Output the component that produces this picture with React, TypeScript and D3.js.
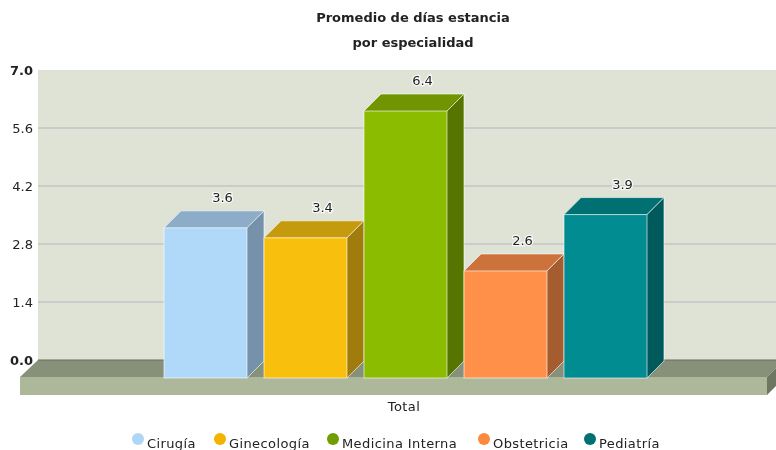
import * as d3 from 'd3';

const categories = ['Cirugía', 'Ginecología', 'Medicina Interna', 'Obstetricia', 'Pediatría'];
const values = [3.6, 3.36, 6.42, 2.56, 3.92];
const labels = ['3.6', '3.4', '6.4', '2.6', '3.9'];
const yTicks = [0, 1.4, 2.8, 4.2, 5.6, 7];
const groupLabel = 'Total';
const titleLines = ['Promedio de días estancia', 'por especialidad'];
const frontColors = ['#b0d8f8', '#f8c010', '#8cbc00', '#ff9048', '#008c90'];
const topColors = ['#8cacc8', '#c69a0c', '#6f9500', '#cc733a', '#006f72'];
const sideColors = ['#7692ab', '#a07c0a', '#577500', '#a55c2e', '#005a5c'];
const legendColors = ['#aed6f6', '#f2b400', '#6f9e00', '#fb8a40', '#006f72'];
const legendX = [138, 220, 333, 484, 590];

const width = 776, height = 450;
const depth = 17;
const y = d3.scaleLinear().domain([0, 7]).range([360, 70]);
const x = d3.scaleBand<string>().domain(categories).range([164, 647]).paddingInner(0.17);
const font = '"DejaVu Sans", sans-serif';
const line = d3.line();

export default function App() {
  const floorY = y(0);
  const bw = x.bandwidth();
  return (
    <svg width={width} height={height} style={{ position: 'absolute', left: 0, top: 0, background: '#fff' }} fontFamily={font}>
      <defs>
        <filter id="soft" x="-5%" y="-5%" width="110%" height="110%">
          <feGaussianBlur stdDeviation="0.45" />
        </filter>
      </defs>
      <g filter="url(#soft)">
        {titleLines.map((t, i) => (
          <text key={t} x={413} y={22 + i * 25} textAnchor="middle" fontSize={13} fontWeight="bold" fill="#222">{t}</text>
        ))}

        <rect x={38} y={y(7)} width={width - 38} height={y(0) - y(7)} fill="#dee3d6" />
        {yTicks.slice(1, -1).map(t => (
          <line key={t} x1={38} x2={width} y1={y(t)} y2={y(t)} stroke="#b4b5bd" strokeWidth={1} />
        ))}
        {yTicks.map(t => (
          <text key={t} x={33} y={y(t) + 5} textAnchor="end" fontSize={13}
            fontWeight={t === 0 || t === 7 ? 'bold' : 'normal'} fill="#222">{t.toFixed(1)}</text>
        ))}

        {/* floor */}
        <path d={line([[38, floorY], [width + 8, floorY], [width - 9, floorY + depth], [20, floorY + depth]])!} fill="#87917a" />
        <line x1={38} x2={width} y1={floorY} y2={floorY} stroke="#667058" strokeWidth={1} />
        <path d={line([[767, floorY + depth], [784, floorY], [784, floorY + 18], [767, floorY + depth + 18]])!} fill="#6e7762" />
        <rect x={20} y={floorY + depth} width={747} height={18} fill="#adb89b" />

        {categories.map((c, i) => {
          const x0 = x(c)!;
          const top = y(values[i]);
          const front = top + depth;
          const bottom = floorY + depth + 1;
          return (
            <g key={c}>
              <path d={line([[x0, front], [x0 + depth, top], [x0 + bw + depth, top], [x0 + bw, front]])!}
                fill={topColors[i]} stroke="#fff" strokeWidth={1} strokeOpacity={0.6} />
              <path d={line([[x0 + bw, front], [x0 + bw + depth, top], [x0 + bw + depth, bottom - depth], [x0 + bw, bottom]])!}
                fill={sideColors[i]} stroke="#fff" strokeWidth={1} strokeOpacity={0.6} />
              <rect x={x0} y={front} width={bw} height={bottom - front} fill={frontColors[i]} stroke="#fff" strokeWidth={1} strokeOpacity={0.6} />
              <text x={x0 + bw / 2 + 17} y={top - 9} textAnchor="middle" fontSize={13} fill="#222"
                stroke="#fff" strokeWidth={2.5} paintOrder="stroke" strokeOpacity={0.8}>{labels[i]}</text>
            </g>
          );
        })}

        <text x={404} y={411} textAnchor="middle" fontSize={13} letterSpacing={0.4} fill="#222">{groupLabel}</text>

        {categories.map((c, i) => (
          <g key={c}>
            <circle cx={legendX[i]} cy={439} r={6} fill={legendColors[i]} />
            <text x={legendX[i] + 9} y={448} fontSize={13} letterSpacing={0.4} fill="#222">{c}</text>
          </g>
        ))}
      </g>
    </svg>
  );
}
